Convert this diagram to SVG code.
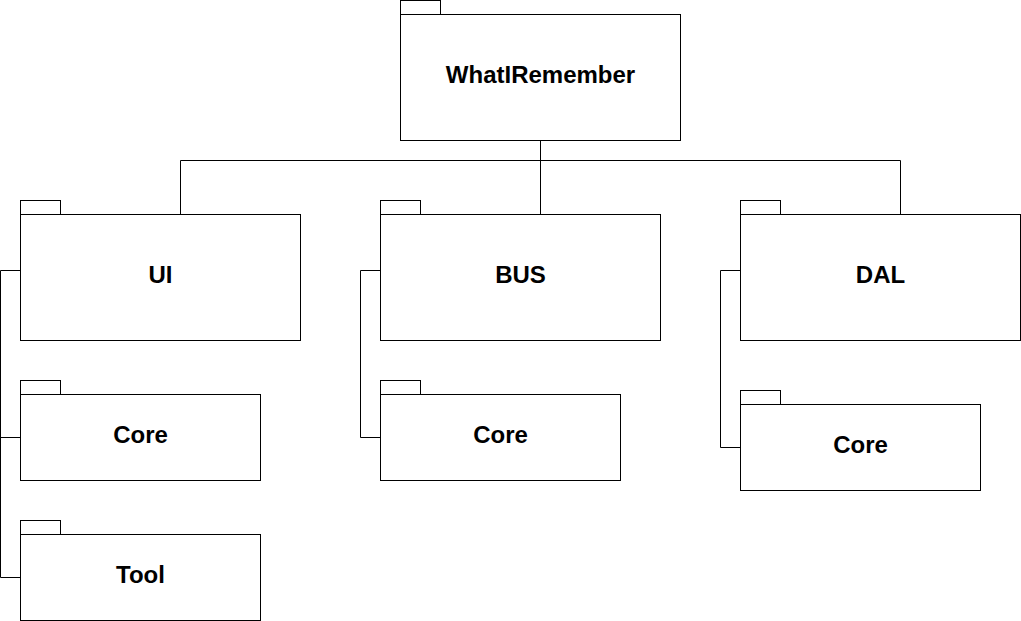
<svg xmlns="http://www.w3.org/2000/svg" width="1021" height="621" viewBox="0 0 1021 621">
<style>
.box{fill:#fff;stroke:#000;stroke-width:1}
.lbl{font-family:"Liberation Sans",Arial,sans-serif;font-weight:bold;font-size:24px;fill:#000;text-anchor:middle}
.edge{fill:none;stroke:#000;stroke-width:1}
</style>
<rect width="1021" height="621" fill="#fff"/>
<g id="connectors">
<path class="edge" d="M540.5 140.5V214.5"/>
<path class="edge" d="M180.5 214.5V160.5H900.5V214.5"/>
<path class="edge" d="M20.5 270.5H0.5V577.5H20.5"/>
<path class="edge" d="M0.5 437.5H20.5"/>
<path class="edge" d="M380.5 270.5H360.5V437.5H380.5"/>
<path class="edge" d="M740.5 270.5H720.5V447.5H740.5"/>
</g>
<g id="whatiremember">
<rect class="box" x="400.5" y="0.5" width="40" height="14"/>
<rect class="box" x="400.5" y="14.5" width="280" height="126"/>
<text class="lbl" x="540.5" y="83">WhatIRemember</text>
</g>
<g id="ui">
<rect class="box" x="20.5" y="200.5" width="40" height="14"/>
<rect class="box" x="20.5" y="214.5" width="280" height="126"/>
<text class="lbl" x="160.5" y="283">UI</text>
</g>
<g id="bus">
<rect class="box" x="380.5" y="200.5" width="40" height="14"/>
<rect class="box" x="380.5" y="214.5" width="280" height="126"/>
<text class="lbl" x="520.5" y="283">BUS</text>
</g>
<g id="dal">
<rect class="box" x="740.5" y="200.5" width="40" height="14"/>
<rect class="box" x="740.5" y="214.5" width="280" height="126"/>
<text class="lbl" x="880.5" y="283">DAL</text>
</g>
<g id="ui-core">
<rect class="box" x="20.5" y="380.5" width="40" height="14"/>
<rect class="box" x="20.5" y="394.5" width="240" height="86"/>
<text class="lbl" x="140.5" y="443">Core</text>
</g>
<g id="ui-tool">
<rect class="box" x="20.5" y="520.5" width="40" height="14"/>
<rect class="box" x="20.5" y="534.5" width="240" height="86"/>
<text class="lbl" x="140.5" y="583">Tool</text>
</g>
<g id="bus-core">
<rect class="box" x="380.5" y="380.5" width="40" height="14"/>
<rect class="box" x="380.5" y="394.5" width="240" height="86"/>
<text class="lbl" x="500.5" y="443">Core</text>
</g>
<g id="dal-core">
<rect class="box" x="740.5" y="390.5" width="40" height="14"/>
<rect class="box" x="740.5" y="404.5" width="240" height="86"/>
<text class="lbl" x="860.5" y="453">Core</text>
</g>
</svg>
